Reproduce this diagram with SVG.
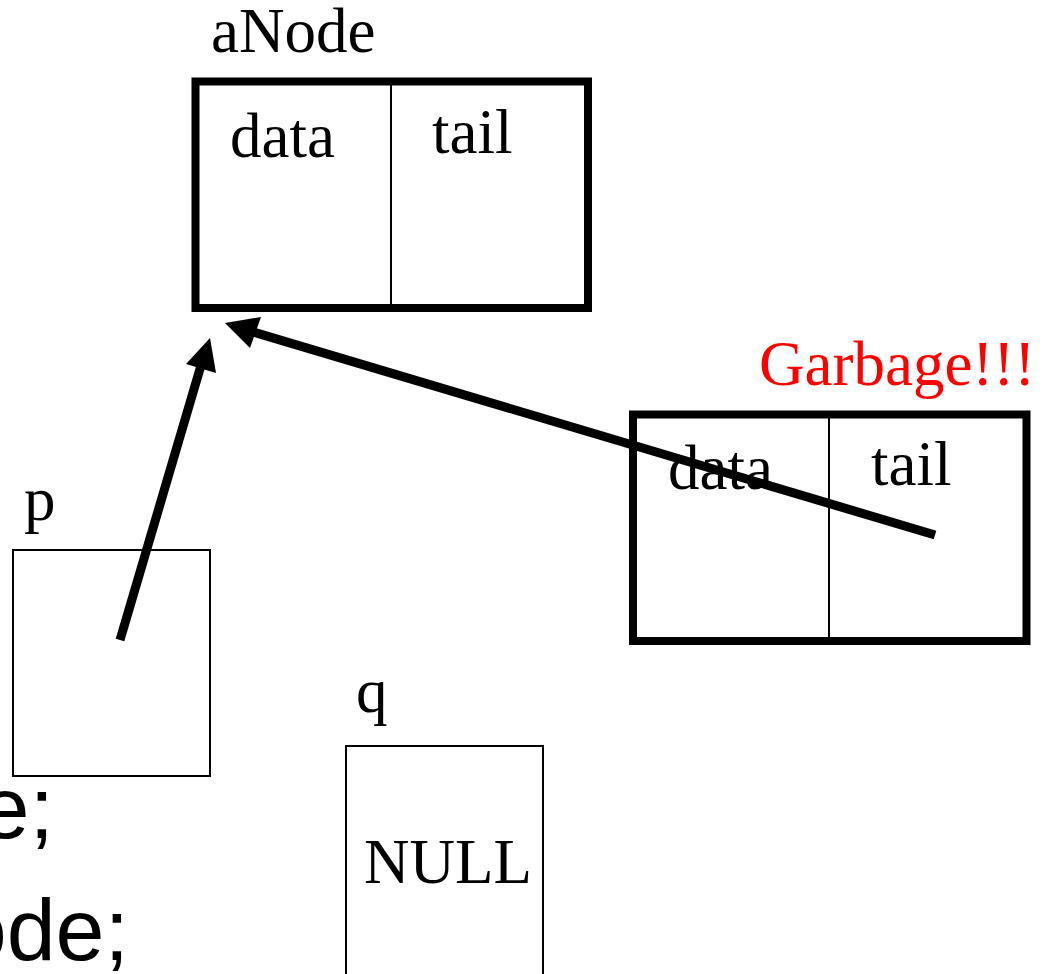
<svg xmlns="http://www.w3.org/2000/svg" width="1049" height="974" viewBox="0 0 1049 974">
  <style>
    .serif { font-family: "Liberation Serif", "Times New Roman", serif; font-size: 63px; fill: #000; }
    .sans { font-family: "Liberation Sans", Arial, sans-serif; font-size: 88px; fill: #000; }
    .red { fill: #ff0000; }
    .thick { fill: #fff; stroke: #000; stroke-width: 8; }
    .thin { fill: #fff; stroke: #000; stroke-width: 2; }
    .div { stroke: #000; stroke-width: 2; }
    .link { stroke: #000; stroke-width: 9; fill: none; }
    .head { fill: #000; stroke: none; }
  </style>
  <rect width="1049" height="974" fill="#fff"/>

  <!-- code fragments at the left edge -->
  <text class="sans" x="54" y="838" text-anchor="end">e;</text>
  <text class="sans" x="129" y="960" text-anchor="end">ode;</text>

  <!-- aNode -->
  <g id="aNode">
    <text class="serif" x="211" y="52">aNode</text>
    <rect class="thick" x="195.5" y="81.5" width="392.5" height="226.5"/>
    <line class="div" x1="391" y1="82" x2="391" y2="308"/>
    <text class="serif" x="230" y="157">data</text>
    <text class="serif" x="432" y="153">tail</text>
  </g>

  <!-- garbage node -->
  <g id="garbage">
    <text class="serif red" x="759" y="385">Garbage!!!</text>
    <rect class="thick" x="633" y="414.5" width="393.5" height="226.5"/>
    <line class="div" x1="829" y1="415" x2="829" y2="641"/>
    <text class="serif" x="668" y="489">data</text>
    <text class="serif" x="871" y="485">tail</text>
  </g>

  <!-- pointer p -->
  <g id="p">
    <text class="serif" x="24" y="520">p</text>
    <rect class="thin" x="13" y="550" width="197" height="226"/>
  </g>

  <!-- pointer q -->
  <g id="q">
    <text class="serif" x="356" y="712">q</text>
    <rect class="thin" x="346" y="746" width="197" height="240"/>
    <text class="serif" x="364" y="883">NULL</text>
  </g>

  <!-- connectors: shafts plus solid triangular heads -->
  <g id="connectors">
    <line class="link" x1="120" y1="640" x2="202" y2="362"/>
    <polygon class="head" points="210,338 186,364 216,373"/>
    <line class="link" x1="935" y1="535" x2="250" y2="331"/>
    <polygon class="head" points="225,323 261,317 250,348"/>
  </g>
</svg>
